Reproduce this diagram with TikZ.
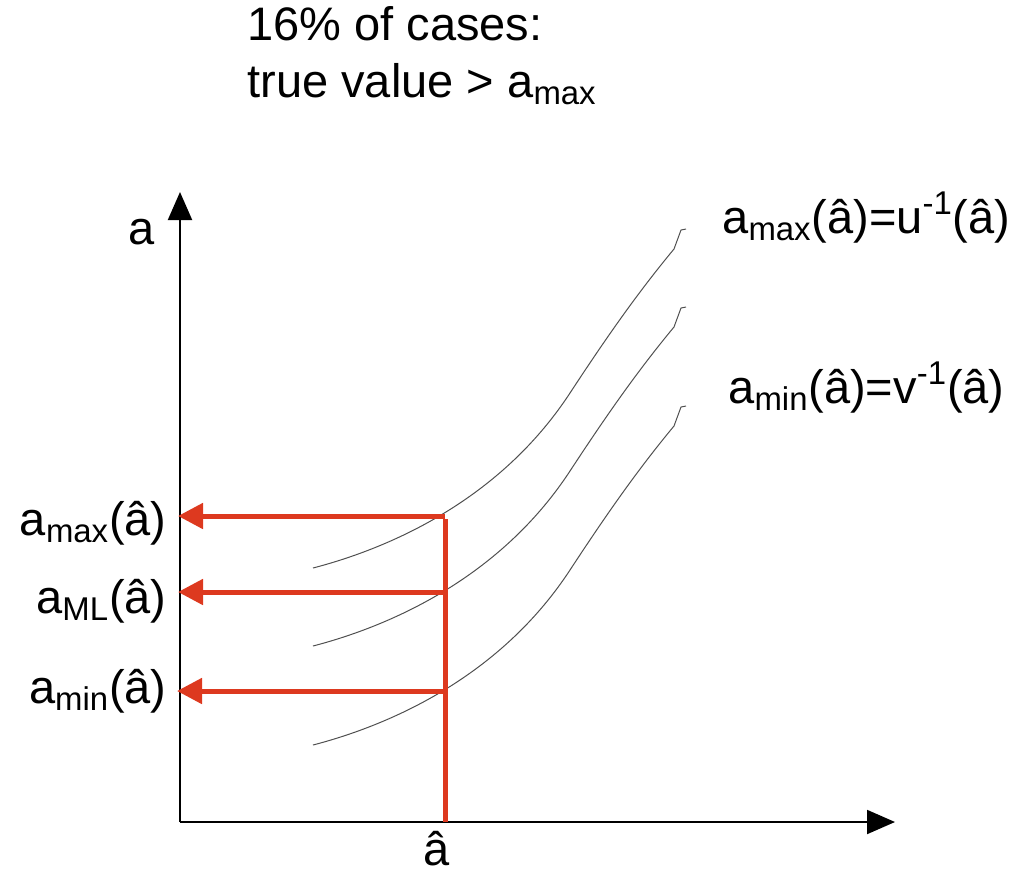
\documentclass[tikz,border=0pt]{standalone}
\usepackage{fontspec}
\setmainfont{Liberation Sans}
\usetikzlibrary{arrows.meta}
\definecolor{redLine}{RGB}{221,57,31}
\definecolor{curveGray}{RGB}{80,80,80}

\begin{document}
\begin{tikzpicture}[x=0.5pt, y=-0.5pt, font=\fontsize{23.5}{28}\selectfont,
    lbl/.style={inner sep=0pt},
    axis/.style={black, line width=1pt, -{Triangle[length=14pt, width=12pt]}},
    estimate/.style={redLine, line width=2.5pt},
    readoff/.style={estimate, -{Triangle[length=12.5pt, width=12.5pt]}},
    curve/.style={curveGray, line width=0.5pt}]
  \useasboundingbox (0,0) rectangle (1023,874);
  \coordinate (origin) at (180,822);
  \coordinate (ytip) at (180,192);
  \coordinate (xtip) at (895,822);
  \draw[axis] (origin) -- (ytip);
  \draw[axis] (origin) -- (xtip);
  \foreach \dy in {0,78,177}{
    \draw[curve, shift={(0,\dy)}] (313,568) .. controls (390,548) and (500,500) .. (570,393)
      .. controls (610,332) and (640,290) .. (674,249) -- (681,230) -- (686,229);
  }
  \coordinate (hmax) at (445,516);
  \coordinate (hml) at (445,592);
  \coordinate (hmin) at (445,691);
  \coordinate (vtop) at (445,519);
  \coordinate (ahat) at (445,822);
  \coordinate (tmax) at (178,516);
  \coordinate (tml) at (178,592);
  \coordinate (tmin) at (177,691);
  \draw[estimate] (vtop) -- (ahat);
  \draw[readoff] (hmax) -- (tmax);
  \draw[readoff] (hml) -- (tml);
  \draw[readoff] (hmin) -- (tmin);
  \node[lbl, anchor=base west] (caseA) at (247,40) {16\% of cases:};
  \node[lbl, anchor=base west] (caseB) at (247,97) {true value > a\textsubscript{max}};
  \node[lbl, anchor=base] (alabel) at (142,244) {a};
  \node[lbl, anchor=base] (ahatlabel) at (437,865) {â};
  \node[lbl, anchor=base west] (ulabel) at (722,233) {a\textsubscript{max}(â)=u\textsuperscript{-1}(â)};
  \node[lbl, anchor=base west] (vlabel) at (728,403) {a\textsubscript{min}(â)=v\textsuperscript{-1}(â)};
  \node[lbl, anchor=base east] (lmax) at (167,535) {a\textsubscript{max}(â)};
  \node[lbl, anchor=base east] (lml) at (167,613) {a\textsubscript{ML}(â)};
  \node[lbl, anchor=base east] (lmin) at (167,703) {a\textsubscript{min}(â)};
\end{tikzpicture}
\end{document}
